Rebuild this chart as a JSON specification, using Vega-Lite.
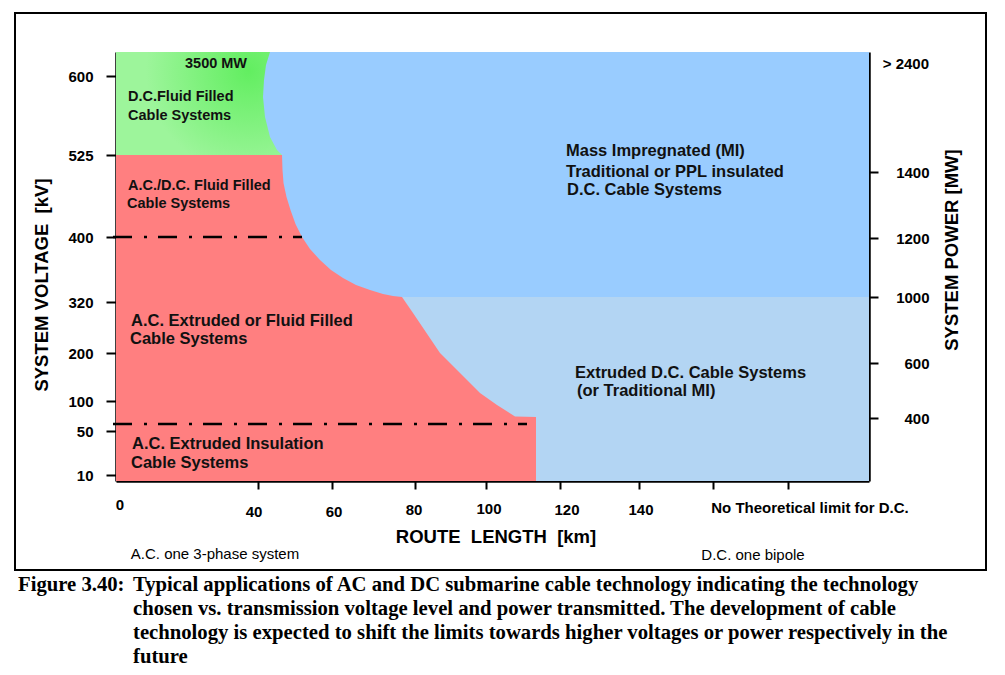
{
  "$schema": "https://vega.github.io/schema/vega-lite/v6.json",
  "width": 753,
  "height": 429,
  "autosize": {"type": "none"},
  "padding": {"left": 116, "top": 52, "right": 136, "bottom": 194},
  "background": "white",
  "config": {"view": {"stroke": null}, "font": "Liberation Sans", "axis": {"grid": false}},
  "datasets": {
    "frame": [{"x": 15, "x2": 986, "y": 13, "y2": 570}],
    "bands": [
      {"zone": "MI", "x": 116, "x2": 869, "y": 52, "y2": 297},
      {"zone": "Extruded", "x": 116, "x2": 869, "y": 297, "y2": 481}
    ],
    "green": [
      {"y": 52, "x": 270}, {"y": 65, "x": 266}, {"y": 80, "x": 264}, {"y": 97, "x": 263},
      {"y": 117, "x": 265}, {"y": 137, "x": 270}, {"y": 150, "x": 277}, {"y": 155, "x": 282}
    ],
    "red": [
      {"y": 155, "x": 282}, {"y": 170, "x": 282.5}, {"y": 183, "x": 283.5}, {"y": 197, "x": 286.5}, {"y": 210, "x": 290.5},
      {"y": 224, "x": 295.5}, {"y": 237, "x": 302}, {"y": 249, "x": 310}, {"y": 260, "x": 320},
      {"y": 270, "x": 331}, {"y": 278, "x": 343}, {"y": 285, "x": 356}, {"y": 290, "x": 370},
      {"y": 294, "x": 383}, {"y": 296, "x": 393}, {"y": 297, "x": 402}, {"y": 313, "x": 413},
      {"y": 353, "x": 440}, {"y": 373, "x": 460}, {"y": 393, "x": 480}, {"y": 405, "x": 497},
      {"y": 416.5, "x": 515}, {"y": 417, "x": 536}, {"y": 481, "x": 536}
    ],
    "dashes": [{"x": 113, "x2": 302, "y": 237}, {"x": 113, "x2": 527, "y": 424}],
    "small": [
      {"x": 185, "y": 64, "t": "3500 MW"},
      {"x": 128, "y": 97, "t": "D.C.Fluid Filled"},
      {"x": 128, "y": 116, "t": "Cable Systems"},
      {"x": 128, "y": 186, "t": "A.C./D.C. Fluid Filled"},
      {"x": 127, "y": 204, "t": "Cable Systems"}
    ],
    "big": [
      {"x": 131, "y": 321, "t": "A.C. Extruded or Fluid Filled"},
      {"x": 130, "y": 339, "t": "Cable Systems"},
      {"x": 132, "y": 444, "t": "A.C. Extruded Insulation"},
      {"x": 131, "y": 463, "t": "Cable Systems"},
      {"x": 566, "y": 151, "t": "Mass Impregnated (MI)"},
      {"x": 566, "y": 172, "t": "Traditional or PPL insulated"},
      {"x": 567, "y": 190, "t": "D.C. Cable Systems"},
      {"x": 575, "y": 373, "t": "Extruded D.C. Cable Systems"},
      {"x": 577, "y": 391, "t": "(or Traditional MI)"}
    ],
    "xlabels": [
      {"x": 120, "y": 505, "t": "0"},
      {"x": 254, "y": 512, "t": "40"},
      {"x": 334, "y": 512, "t": "60"},
      {"x": 414, "y": 510, "t": "80"},
      {"x": 489, "y": 509, "t": "100"},
      {"x": 567, "y": 510, "t": "120"},
      {"x": 641, "y": 510, "t": "140"},
      {"x": 810, "y": 508, "t": "No Theoretical limit for D.C."}
    ],
    "toplabel": [{"x": 929, "y": 64, "t": "> 2400"}],
    "xtitle": [{"x": 496, "y": 537, "t": "ROUTE \u00a0LENGTH \u00a0[km]"}],
    "ytitles": [
      {"x": 42, "y": 285, "t": "SYSTEM VOLTAGE \u00a0[kV]"},
      {"x": 952, "y": 250, "t": "SYSTEM POWER [MW]"}
    ],
    "notes": [
      {"x": 215, "y": 554, "t": "A.C. one 3-phase system"},
      {"x": 753, "y": 555, "t": "D.C. one bipole"}
    ],
    "figlabel": [{"x": 18, "y": 585, "t": "Figure 3.40:"}],
    "caption": [
      {"x": 133, "y": 585, "t": "Typical applications of AC and DC submarine cable technology indicating the technology"},
      {"x": 133, "y": 609, "t": "chosen vs. transmission voltage level and power transmitted. The development of cable"},
      {"x": 133, "y": 633, "t": "technology is expected to shift the limits towards higher voltages or power respectively in the"},
      {"x": 133, "y": 657, "t": "future"}
    ]
  },
  "encoding": {
    "x": {"field": "x", "type": "quantitative", "scale": {"domain": [116, 869], "nice": false, "zero": false}, "axis": null},
    "y": {"field": "y", "type": "quantitative", "scale": {"domain": [52, 481], "nice": false, "zero": false, "reverse": true}, "axis": null}
  },
  "layer": [
    {
      "data": {"name": "frame"},
      "mark": {"type": "rect", "filled": false, "color": "black", "strokeWidth": 2},
      "encoding": {"x2": {"field": "x2"}, "y2": {"field": "y2"}}
    },
    {
      "data": {"name": "bands"},
      "mark": {"type": "rect"},
      "encoding": {
        "x": {"field": "x", "type": "quantitative", "scale": {"domain": [116, 869], "nice": false, "zero": false},
          "axis": {"orient": "bottom", "values": [258, 332, 415, 486, 560, 639, 713, 788], "labels": false, "title": null,
            "tickSize": 8, "tickWidth": 2, "tickColor": "black", "domainColor": "black", "domainWidth": 2.5, "grid": false}},
        "y": {"field": "y", "type": "quantitative", "scale": {"domain": [52, 481], "nice": false, "zero": false, "reverse": true},
          "axis": {"orient": "left", "values": [76, 155, 237, 302, 353, 401, 431, 475], "title": null, "grid": false,
            "labelExpr": "datum.value == 76 ? '600' : datum.value == 155 ? '525' : datum.value == 237 ? '400' : datum.value == 302 ? '320' : datum.value == 353 ? '200' : datum.value == 401 ? '100' : datum.value == 431 ? '50' : '10'",
            "labelFont": "Liberation Sans", "labelFontWeight": "bold", "labelFontSize": 15, "labelColor": "black", "labelPadding": 13,
            "tickSize": 10, "tickWidth": 2, "tickColor": "black", "domainColor": "black", "domainWidth": 2.5}},
        "x2": {"field": "x2"},
        "y2": {"field": "y2"},
        "color": {"field": "zone", "type": "nominal", "scale": {"domain": ["MI", "Extruded"], "range": ["#99ccff", "#b3d5f3"]}, "legend": null}
      }
    },
    {
      "data": {"name": "green"},
      "mark": {"type": "area", "orient": "horizontal",
        "color": {"gradient": "radial", "x1": 0.8, "y1": 0.3, "x2": 0.8, "y2": 0.3, "r1": 0, "r2": 0.62,
          "stops": [{"offset": 0, "color": "#62ee60"}, {"offset": 1, "color": "#9df59b"}]}},
      "encoding": {"x2": {"datum": 116}}
    },
    {
      "data": {"name": "red"},
      "mark": {"type": "area", "orient": "horizontal", "color": "#ff7f80"},
      "encoding": {"x2": {"datum": 116}}
    },
    {
      "data": {"name": "dashes"},
      "mark": {"type": "rule", "color": "black", "strokeWidth": 2.5, "strokeDash": [19, 12, 3, 11]},
      "encoding": {"x2": {"field": "x2"}}
    },
    {
      "data": {"name": "small"},
      "mark": {"type": "text", "align": "left", "baseline": "middle", "font": "Liberation Sans", "fontWeight": "bold", "fontSize": 14.5, "color": "#111111"},
      "encoding": {"text": {"field": "t"}}
    },
    {
      "data": {"name": "big"},
      "mark": {"type": "text", "align": "left", "baseline": "middle", "font": "Liberation Sans", "fontWeight": "bold", "fontSize": 16.5, "color": "#111111"},
      "encoding": {"text": {"field": "t"}}
    },
    {
      "data": {"name": "xlabels"},
      "mark": {"type": "text", "align": "center", "baseline": "middle", "font": "Liberation Sans", "fontWeight": "bold", "fontSize": 15, "color": "black"},
      "encoding": {"text": {"field": "t"}}
    },
    {
      "data": {"name": "toplabel"},
      "mark": {"type": "text", "align": "right", "baseline": "middle", "font": "Liberation Sans", "fontWeight": "bold", "fontSize": 15, "color": "black"},
      "encoding": {
        "text": {"field": "t"},
        "y": {"field": "y", "type": "quantitative", "scale": {"domain": [52, 481], "nice": false, "zero": false, "reverse": true},
          "axis": {"orient": "right", "values": [172, 238, 297, 363, 418], "title": null, "grid": false,
            "labelExpr": "datum.value == 172 ? '1400' : datum.value == 238 ? '1200' : datum.value == 297 ? '1000' : datum.value == 363 ? '600' : '400'",
            "labelFont": "Liberation Sans", "labelFontWeight": "bold", "labelFontSize": 15, "labelColor": "black", "labelAlign": "right", "labelPadding": 51,
            "tickSize": 9, "tickWidth": 2, "tickColor": "black", "domainColor": "black", "domainWidth": 2.5}}
      }
    },
    {
      "data": {"name": "xtitle"},
      "mark": {"type": "text", "align": "center", "baseline": "middle", "font": "Liberation Sans", "fontWeight": "bold", "fontSize": 18.5, "color": "black"},
      "encoding": {"text": {"field": "t"}}
    },
    {
      "data": {"name": "ytitles"},
      "mark": {"type": "text", "align": "center", "baseline": "middle", "angle": 270, "font": "Liberation Sans", "fontWeight": "bold", "fontSize": 18.5, "color": "black"},
      "encoding": {"text": {"field": "t"}}
    },
    {
      "data": {"name": "notes"},
      "mark": {"type": "text", "align": "center", "baseline": "middle", "font": "Liberation Sans", "fontSize": 15, "color": "black"},
      "encoding": {"text": {"field": "t"}}
    },
    {
      "data": {"name": "figlabel"},
      "mark": {"type": "text", "align": "left", "baseline": "middle", "font": "Liberation Serif", "fontWeight": "bold", "fontSize": 20.7, "color": "black"},
      "encoding": {"text": {"field": "t"}}
    },
    {
      "data": {"name": "caption"},
      "mark": {"type": "text", "align": "left", "baseline": "middle", "font": "Liberation Serif", "fontWeight": "bold", "fontSize": 20.7, "color": "black"},
      "encoding": {"text": {"field": "t"}}
    }
  ],
  "resolve": {"axis": {"x": "independent", "y": "independent"}}
}
